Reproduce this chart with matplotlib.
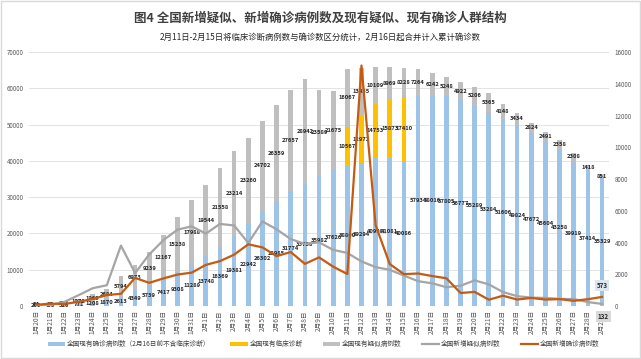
import matplotlib
matplotlib.use("Agg")
import matplotlib.pyplot as plt
from matplotlib.patches import Patch, Rectangle
from matplotlib.lines import Line2D
import numpy as np

plt.rcParams['font.family'] = ['Noto Sans CJK SC', 'DejaVu Sans']

dates = ['1月20日', '1月21日', '1月22日', '1月23日', '1月24日', '1月25日', '1月26日',
         '1月27日', '1月28日', '1月29日', '1月30日', '1月31日',
         '2月1日', '2月2日', '2月3日', '2月4日', '2月5日', '2月6日', '2月7日',
         '2月8日', '2月9日', '2月10日', '2月11日', '2月12日', '2月13日', '2月14日',
         '2月15日', '2月16日', '2月17日', '2月18日', '2月19日', '2月20日', '2月21日',
         '2月22日', '2月23日', '2月24日', '2月25日', '2月26日', '2月27日', '2月28日',
         '2月29日']

confirmed_existing = [260, 408, 526, 771, 1208, 1870, 2613, 4349, 5739, 7417, 9308, 11289,
                      13748, 16369, 19381, 22942, 26302, 28985, 31774, 33738, 35982, 37626,
                      38800, 39294, 40998, 41081, 40086, 57934, 58016, 57805, 56777, 55289,
                      53284, 51606, 49824, 47672, 45604, 43258, 39919, 37414, 35329]

clinical_existing = [0, 0, 0, 0, 0, 0, 0, 0, 0, 0, 0, 0,
                     0, 0, 0, 0, 0, 0, 0, 0, 0, 0,
                     10567, 12972, 14753, 15873, 17410, 0, 0, 0, 0, 0,
                     0, 0, 0, 0, 0, 0, 0, 0, 0]

suspected_existing = [54, 37, 393, 1072, 1965, 2684, 5794, 6973, 9239, 12167, 15238, 17988,
                      19544, 21558, 23214, 23260, 24702, 26359, 27657, 28942, 23589, 21675,
                      16067, 13435, 10109, 8969, 8228, 7264, 6242, 5248, 4922, 5206,
                      5365, 4148, 3434, 2824, 2491, 2358, 2308, 1418, 851]

new_suspected = [27, 60, 257, 680, 1118, 1309, 3806, 2077, 3248, 4148, 4812, 5019,
                 4562, 5173, 5072, 3971, 5328, 4833, 4214, 3916, 4008, 3536,
                 3342, 2807, 2450, 2277, 1918, 1563, 1432, 1185, 1277, 1614,
                 1361, 882, 620, 530, 508, 452, 439, 248, 132]

new_confirmed = [77, 149, 131, 259, 444, 688, 769, 1771, 1459, 1737, 1982, 2102,
                 2590, 2829, 3235, 3887, 3694, 3143, 3399, 2656, 3062, 2478,
                 2015, 15152, 5090, 2641, 2009, 2048, 1886, 1749, 820, 889,
                 397, 648, 409, 508, 406, 433, 327, 427, 573]

legend_labels = ['全国现有确诊病例数（2月16日前不含临床诊断）', '全国现有临床诊断',
                 '全国现有疑似病例数', '全国新增疑似病例数', '全国新增确诊病例数']

C_BLUE = '#9DC3E6'
C_YEL = '#FFC000'
C_GRAYBAR = '#BFBFBF'
C_GRAYLINE = '#A5A5A5'
C_ORANGE = '#C55A11'
TXT = '#595959'

fig = plt.figure(figsize=(6.41, 3.59), dpi=100)
fig.patch.set_facecolor('white')
fig.add_artist(Rectangle((0.002, 0.003), 0.996, 0.994, transform=fig.transFigure,
                         fill=False, edgecolor='#d9d9d9', linewidth=1.0))

ax = fig.add_axes([0.0452, 0.1476, 0.905, 0.7075])
x = np.arange(len(dates))
w = 0.33
ce = np.array(confirmed_existing)
cl = np.array(clinical_existing)
se = np.array(suspected_existing)

b1 = ax.bar(x, ce, w, color=C_BLUE, zorder=2)
b2 = ax.bar(x, cl, w, bottom=ce, color=C_YEL, zorder=2)
b3 = ax.bar(x, se, w, bottom=ce + cl, color=C_GRAYBAR, zorder=2)

lab_kw = dict(label_type='center', fontsize=4.2, color='#262626', fontweight='bold')
ax.bar_label(b1, labels=[str(v) for v in confirmed_existing], **lab_kw)
ax.bar_label(b2, labels=[str(v) if v else '' for v in clinical_existing], **lab_kw)
ax.bar_label(b3, labels=[str(v) for v in suspected_existing], **lab_kw)

ax.set_xlim(-0.5, len(dates) - 0.5)
ax.set_ylim(0, 70000)
ax.set_yticks(np.arange(0, 70001, 10000))
ax.yaxis.grid(True, color='#e3e3e3', linewidth=0.7, zorder=0)
ax.set_axisbelow(True)
for s in ax.spines.values():
    s.set_visible(False)
ax.tick_params(axis='y', length=0, labelsize=4.5, labelcolor=TXT, pad=4)
ax.set_xticks(x)
ax.set_xticklabels(dates, rotation=90, fontsize=4.8, color=TXT)
ax.tick_params(axis='x', length=0, pad=3)

ax2 = ax.twinx()
ax2.set_ylim(0, 16000)
ax2.set_yticks(np.arange(0, 16001, 2000))
for s in ax2.spines.values():
    s.set_visible(False)
ax2.tick_params(axis='y', length=0, labelsize=4.5, labelcolor=TXT, pad=4)
ax2.plot(x, new_suspected, color=C_GRAYLINE, linewidth=1.6, zorder=3)
ax2.plot(x, new_confirmed, color=C_ORANGE, linewidth=1.6, zorder=4)

ax2.annotate(str(new_confirmed[-1]), (x[-1], new_confirmed[-1]), xytext=(0, 8),
             textcoords='offset points', ha='center', va='center', fontsize=4.5,
             color='#262626', fontweight='bold',
             bbox=dict(boxstyle='square,pad=0.3', facecolor='#dce6f2', edgecolor='none'))
ax2.annotate(str(new_suspected[-1]), (x[-1], new_suspected[-1]), xytext=(1, -9),
             textcoords='offset points', ha='center', va='center', fontsize=4.5,
             color='#262626', fontweight='bold', annotation_clip=False,
             bbox=dict(boxstyle='square,pad=0.3', facecolor='#d9d9d9', edgecolor='none'))

fig.text(0.5, 1 - 18 / 359, '图4 全国新增疑似、新增确诊病例数及现有疑似、现有确诊人群结构',
         ha='center', va='center', fontsize=9, fontweight='bold', color='#404040')
fig.text(0.5, 1 - 37 / 359,
         '2月11日-2月15日将临床诊断病例数与确诊数区分统计，2月16日起合并计入累计确诊数',
         ha='center', va='center', fontsize=6, color='#262626')

handles = [Patch(facecolor=C_BLUE), Patch(facecolor=C_YEL), Patch(facecolor=C_GRAYBAR),
           Line2D([0], [0], color=C_GRAYLINE, linewidth=1.6),
           Line2D([0], [0], color=C_ORANGE, linewidth=1.6)]
fig.legend(handles, legend_labels, loc='center', bbox_to_anchor=(0.505, 1 - 344 / 359),
           ncol=5, frameon=False, fontsize=4.8, handlelength=2.6, handleheight=0.5,
           columnspacing=3.0, handletextpad=0.3, labelcolor='#404040')

fig.savefig('out.png', dpi=100, facecolor='white')
